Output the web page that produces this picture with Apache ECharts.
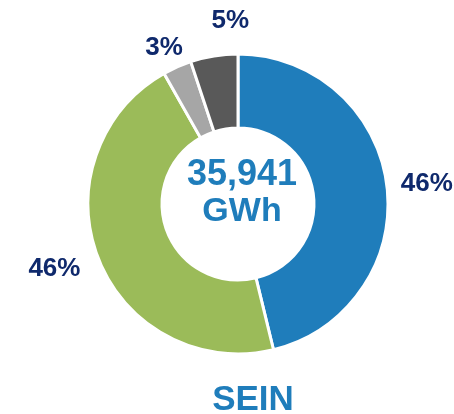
<!DOCTYPE html>
<html>
<head>
<meta charset="utf-8">
<script src="https://cdn.jsdelivr.net/npm/echarts@6/dist/echarts.min.js"></script>
<style>
  html, body { margin: 0; padding: 0; background: #fff; }
  #main { width: 454px; height: 414px; }
</style>
</head>
<body>
<div id="main"></div>
<script>
// shares of generation, clockwise from the top
var sources = ['A', 'B', 'C', 'D'];
var shares = [46.2, 45.6, 3.1, 5.1];
var shareLabels = ['46%', '46%', '3%', '5%'];
var colors = ['#1f7dbb', '#9bbb59', '#a6a6a6', '#595959'];
var totalText = ['35,941', 'GWh'];
var systemName = 'SEIN';

// small nudges for the crowded labels at the top
var labelNudge = [[-4, -1], [-1, 5], [16, -7], [42, -22]];

var chart = echarts.init(document.getElementById('main'));

var option = {
    animation: false,
    graphic: [
        {
            type: 'text',
            x: 242,
            y: 175,
            style: {
                text: totalText[0],
                font: 'bold 36px "Liberation Sans"',
                fill: '#1f7dbb',
                align: 'center',
                verticalAlign: 'middle'
            }
        },
        {
            type: 'text',
            x: 242,
            y: 212,
            style: {
                text: totalText[1],
                font: 'bold 34px "Liberation Sans"',
                fill: '#1f7dbb',
                align: 'center',
                verticalAlign: 'middle'
            }
        },
        {
            type: 'text',
            x: 253,
            y: 400,
            style: {
                text: systemName,
                font: 'bold 35px "Liberation Sans"',
                fill: '#1f7dbb',
                align: 'center',
                verticalAlign: 'middle'
            }
        }
    ],
    series: [
        {
            type: 'pie',
            center: [238, 204],
            radius: [76, 150],
            avoidLabelOverlap: false,
            itemStyle: {
                borderColor: '#fff',
                borderWidth: 3
            },
            label: {
                show: true,
                position: 'outside',
                formatter: function (p) { return shareLabels[p.dataIndex]; },
                fontFamily: 'Liberation Sans',
                fontSize: 26,
                fontWeight: 'bold',
                color: '#0f296c'
            },
            labelLine: { show: false, length: 13, length2: 0 },
            labelLayout: function (p) {
                return { dx: labelNudge[p.dataIndex][0], dy: labelNudge[p.dataIndex][1] };
            },
            data: sources.map(function (s, i) {
                return { name: s, value: shares[i], itemStyle: { color: colors[i] } };
            })
        }
    ]
};
chart.setOption(option);
</script>
</body>
</html>
